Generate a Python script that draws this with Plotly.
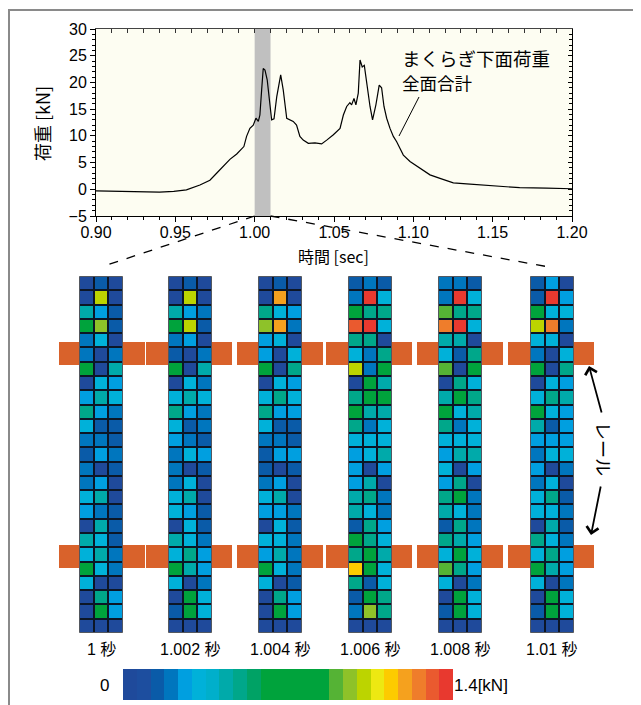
import plotly.graph_objects as go

# page body has an 8px margin, so the figure is sized to fit the 641x705 window
OFF = 8
W, H = 641 - OFF, 705 - OFF
FONT = "Liberation Sans, Arial, Noto Sans CJK JP"
JP = "Noto Sans CJK JP, Liberation Sans"

# ---------------- data: total sleeper load vs time ----------------
time_s = [0.900, 0.913, 0.924, 0.934, 0.940, 0.949, 0.957, 0.9655, 0.9718, 0.976,
          0.980, 0.9844, 0.9887, 0.9918, 0.9932, 0.9949, 0.9970, 0.9991, 1.0008, 1.0023,
          1.0033, 1.0044, 1.0054, 1.0065, 1.0079, 1.0092, 1.0107, 1.0122, 1.0139, 1.0164,
          1.0180, 1.0202, 1.0222, 1.0243, 1.0264, 1.0285, 1.0306, 1.0338, 1.0380, 1.0422,
          1.0454, 1.0496, 1.0538, 1.0559, 1.0580, 1.0600, 1.0611, 1.0626, 1.0638, 1.0653,
          1.0664, 1.0678, 1.0691, 1.0706, 1.0727, 1.0743, 1.0764, 1.0785, 1.0800, 1.0815,
          1.0832, 1.0853, 1.0874, 1.0895, 1.0937, 1.0979, 1.1042, 1.1105, 1.1168, 1.1252,
          1.1336, 1.142, 1.150, 1.159, 1.167, 1.184, 1.200]
load_kn = [-0.3, -0.4, -0.5, -0.6, -0.55, -0.4, -0.1, 0.8, 1.7, 3.0,
           4.2, 5.6, 6.6, 7.7, 8.0, 9.9, 11.4, 12.0, 13.3, 12.7,
           13.9, 18.6, 22.6, 22.3, 20.5, 17.0, 13.0, 13.2, 17.3, 21.4,
           18.6, 13.3, 13.0, 12.7, 12.0, 9.9, 9.2, 8.6, 8.7, 8.5,
           9.2, 10.2, 11.4, 13.9, 15.5, 16.2, 15.8, 17.0, 15.8, 18.0,
           24.2, 22.9, 23.2, 19.8, 15.5, 13.0, 15.8, 19.5, 19.0, 15.5,
           13.3, 11.4, 9.9, 8.9, 6.4, 5.2, 3.9, 2.7, 2.05, 1.2,
           1.0, 0.8, 0.6, 0.4, 0.3, 0.2, 0.1]
band_range = [1.000, 1.010]
x_ticks = [0.90, 0.95, 1.00, 1.05, 1.10, 1.15, 1.20]
y_ticks = [-5, 0, 5, 10, 15, 20, 25, 30]

# ---------------- data: pressure distribution snapshots ----------------
snapshot_labels = ["1 秒", "1.002 秒", "1.004 秒", "1.006 秒", "1.008 秒", "1.01 秒"]
# colour-level codes (rows top -> bottom, 3 cells each)
level_of_code = {"D": 0, "M": 2, "B": 3, "S": 4, "C": 5, "T": 7, "E": 8, "G": 12,
                 "L": 15, "Y": 16, "K": 17, "U": 19, "O": 20, "P": 21, "Q": 22, "R": 23}
snap_1000 = ["DMD", "DKD", "TSM", "GYM", "BCD", "BDB", "GDT", "DCS", "STC", "ESB",
             "CMM", "BBM", "MSB", "BDM", "BSD", "CTD", "SBM", "DTM", "TCM", "CTB",
             "GCB", "CDD", "DES", "DGS", "DDD"]
snap_1002 = ["DMD", "DKD", "TSB", "GKM", "BSD", "MDB", "GDT", "DCB", "CTC", "ESB",
             "CMB", "SBM", "BCS", "BDM", "BCD", "CTD", "CSM", "DCM", "TCB", "CES",
             "GTS", "CDB", "DGC", "MGC", "DDD"]
snap_1004 = ["DMD", "DOD", "ECS", "YOB", "SCD", "SDC", "GDE", "DCS", "CEC", "ESS",
             "CMM", "BBM", "MSS", "MDM", "BSD", "CTD", "SSB", "DCM", "CCB", "STB",
             "GCB", "CDM", "DES", "DGS", "DDD"]
snap_1006 = ["MBM", "BRC", "GEE", "QRC", "EED", "CBE", "KBG", "DGT", "EGG", "GTT",
             "EBC", "CCC", "SCT", "SDS", "STD", "TEB", "TCB", "MES", "GEC", "EGT",
             "UGC", "EMC", "MGE", "BYE", "DDD"]
snap_1008 = ["BBM", "BRC", "LEE", "PRC", "TTD", "CME", "LDG", "DEC", "TGE", "GCT",
             "EBC", "CCC", "STT", "CDS", "SED", "EGB", "TCB", "MEB", "ETS", "CGC",
             "LES", "CDB", "DGC", "MGC", "DDD"]
snap_1010 = ["MSD", "MRS", "GCC", "KPB", "CCD", "BDC", "GDE", "DCS", "CET", "GCS",
             "TMS", "SSS", "BCC", "SDB", "BCD", "CEM", "CCB", "DTM", "ECB", "CES",
             "GTS", "CDB", "DGC", "MGC", "DDD"]
snapshots = [snap_1000, snap_1002, snap_1004, snap_1006, snap_1008, snap_1010]

# discrete 24-step colour scale, 0 .. 1.4 kN
scale_min, scale_max = 0.0, 1.4
scale_colors = ["#1f4a9b", "#1d4e9f", "#0a5ba8", "#0076be", "#009fe0", "#00b1d9",
                "#00afcb", "#00aaaa", "#00a78a", "#00a265", "#00a33c", "#00a33c",
                "#00a33c", "#00a33c", "#00a33c", "#55b335", "#8ec229", "#bcd400",
                "#ede812", "#fdcb00", "#f5a11e", "#ef7d2b", "#ea5a2f", "#e8392f"]

# ---------------- layout helpers (window pixel -> paper) ----------------
def px(x):
    return (x - OFF) / W

def py(y):
    return 1 - (y - OFF) / H

TOP_X = (96, 572)
TOP_Y = (29, 216)
heat_x = [(79, 123), (168, 212), (258, 302), (348, 392), (438, 482), (530, 574)]
heat_y = (276, 633)
rail_rows = [(342, 365), (545, 568)]
rail_segs = [(59, 145), (146, 232), (237, 323), (326, 412), (417, 503), (508, 594)]
RAIL = "#d9622b"

n_lev = len(scale_colors)
colorscale = []
for i, c in enumerate(scale_colors):
    colorscale.append([i / n_lev, c])
    colorscale.append([(i + 1) / n_lev, c])

fig = go.Figure()

# top line chart
fig.add_trace(go.Scatter(x=time_s, y=load_kn, mode="lines",
                         line=dict(color="black", width=1.2), hoverinfo="skip",
                         showlegend=False, xaxis="x", yaxis="y"))
fig.add_trace(go.Scatter(x=time_s, y=load_kn, mode="lines",
                         line=dict(color="rgba(0,0,0,0)", width=0), hoverinfo="skip",
                         showlegend=False, xaxis="x2", yaxis="y2"))

# heatmaps
step = (scale_max - scale_min) / n_lev
for k, snap in enumerate(snapshots):
    z = [[scale_min + (level_of_code[ch] + 0.5) * step for ch in row] for row in snap]
    ax = k + 3
    fig.add_trace(go.Heatmap(z=z, coloraxis="coloraxis", xgap=2, ygap=2,
                             xaxis=f"x{ax}", yaxis=f"y{ax}", hoverinfo="skip"))

layout = dict(
    width=W, height=H, margin=dict(l=0, r=0, t=0, b=0, pad=0, autoexpand=False),
    paper_bgcolor="white", plot_bgcolor="rgba(0,0,0,0)",
    font=dict(family=FONT, color="black", size=16),
    showlegend=False,
    xaxis=dict(domain=[px(TOP_X[0]), px(TOP_X[1])], anchor="y", range=[0.9, 1.2],
               tickvals=x_ticks, ticktext=[f"{v:.2f}" for v in x_ticks],
               ticks="outside", ticklen=5, tickcolor="black", ticklabelstandoff=-3,
               minor=dict(dtick=0.01, tick0=0.9, ticks="outside", ticklen=3, tickcolor="black"),
               showline=True, linecolor="black", linewidth=1, showgrid=False, zeroline=False,
               tickfont=dict(size=16), automargin=False),
    yaxis=dict(domain=[py(TOP_Y[1]), py(TOP_Y[0])], anchor="x", range=[-5, 30],
               tickvals=y_ticks, ticks="outside", ticklen=5, tickcolor="black",
               minor=dict(dtick=1, tick0=0, ticks="outside", ticklen=3, tickcolor="black"),
               showline=True, linecolor="black", linewidth=1, showgrid=False, zeroline=False,
               tickfont=dict(size=16), automargin=False),
    xaxis2=dict(overlaying="x", side="top", anchor="y2", range=[0.9, 1.2],
                tickvals=x_ticks, ticks="inside", ticklen=4, tickcolor="#333",
                minor=dict(dtick=0.01, tick0=0.9, ticks="inside", ticklen=4, tickcolor="#333"),
                showticklabels=False, showline=True, linecolor="#444", linewidth=1,
                showgrid=False, zeroline=False, automargin=False),
    yaxis2=dict(overlaying="y", side="right", anchor="x2", range=[-5, 30],
                tickvals=y_ticks, ticks="inside", ticklen=4, tickcolor="black",
                minor=dict(dtick=1, tick0=0, ticks="inside", ticklen=3, tickcolor="black"),
                showticklabels=False, showline=True, linecolor="black", linewidth=1,
                showgrid=False, zeroline=False, automargin=False),
    coloraxis=dict(colorscale=colorscale, cmin=scale_min, cmax=scale_max,
                   colorbar=dict(orientation="h", x=px(123), xanchor="left",
                                 y=py(700), yanchor="bottom",
                                 thickness=31, thicknessmode="pixels",
                                 len=330, lenmode="pixels", xpad=0, ypad=0,
                                 outlinewidth=0, showticklabels=False, ticks="")),
)
for k, (x0, x1) in enumerate(heat_x):
    ax = k + 3
    layout[f"xaxis{ax}"] = dict(domain=[px(x0), px(x1)], anchor=f"y{ax}", range=[-0.5, 2.5],
                                visible=False, fixedrange=True)
    layout[f"yaxis{ax}"] = dict(domain=[py(heat_y[1]), py(heat_y[0])], anchor=f"x{ax}",
                                range=[24.5, -0.5], visible=False, fixedrange=True)
fig.update_layout(**layout)

shapes = []
# outer frame
shapes.append(dict(type="rect", xref="paper", yref="paper", x0=px(9), x1=px(680),
                   y0=py(740), y1=py(10), line=dict(color="#8a8a8a", width=2),
                   fillcolor="rgba(0,0,0,0)", layer="below"))
# ivory plot background and highlight band
shapes.append(dict(type="rect", xref="x", yref="y", x0=0.9, x1=1.2, y0=-5, y1=30,
                   fillcolor="#fdfdf2", line=dict(width=0), layer="below"))
shapes.append(dict(type="rect", xref="x", yref="y", x0=band_range[0], x1=band_range[1],
                   y0=-5, y1=30, fillcolor="#c0c0c0", line=dict(width=0), layer="below"))

# dashed zoom lines from band edges to outer snapshots
def t_to_px(t):
    return TOP_X[0] + (t - 0.9) / 0.3 * (TOP_X[1] - TOP_X[0])

shapes.append(dict(type="line", xref="paper", yref="paper",
                   x0=px(t_to_px(band_range[0])), y0=py(TOP_Y[1]),
                   x1=px(sum(heat_x[0]) / 2), y1=py(267),
                   line=dict(color="black", width=1.3, dash="dash")))
shapes.append(dict(type="line", xref="paper", yref="paper",
                   x0=px(t_to_px(band_range[1])), y0=py(TOP_Y[1]),
                   x1=px(sum(heat_x[-1]) / 2 - 3), y1=py(267),
                   line=dict(color="black", width=1.3, dash="dash")))
# annotation pointer
shapes.append(dict(type="line", xref="paper", yref="paper", x0=px(419), y0=py(97),
                   x1=px(399), y1=py(136), line=dict(color="black", width=1)))
# rails
for (ry0, ry1) in rail_rows:
    for (sx0, sx1) in rail_segs:
        shapes.append(dict(type="rect", xref="paper", yref="paper", x0=px(sx0), x1=px(sx1),
                           y0=py(ry1), y1=py(ry0), fillcolor=RAIL, line=dict(width=0),
                           layer="below"))
# dark cell-grid backgrounds for heatmaps
for k in range(len(heat_x)):
    ax = k + 3
    shapes.append(dict(type="rect", xref=f"x{ax}", yref=f"y{ax}", x0=-0.5, x1=2.5,
                       y0=24.5, y1=-0.5, fillcolor="#0c1626",
                       line=dict(color="#9a9a9a", width=1), layer="below"))
fig.update_layout(shapes=shapes)


def label(text, x, y, size, family=FONT, xanchor="center", angle=0):
    return dict(text=text, x=px(x), y=py(y), xref="paper", yref="paper",
                xanchor=xanchor, yanchor="middle", textangle=angle, showarrow=False,
                font=dict(family=family, size=size, color="black"))


ann = []
ann.append(label("荷重 [kN]", 42, 124, 18, JP, angle=-90))
ann.append(label("時間 [sec]", 334, 256, 16, JP))
ann.append(label("まくらぎ下面荷重", 400, 58, 18.5, JP, xanchor="left"))
ann.append(label("全面合計", 400, 82, 17.5, JP, xanchor="left"))
for k, lab in enumerate(snapshot_labels):
    ann.append(label(lab, sum(heat_x[k]) / 2, 649, 16))
ann.append(label(f"{scale_min:g}", 111, 685, 17, xanchor="right"))
ann.append(label(f"{scale_max:g}[kN]", 452, 685, 17, xanchor="left"))
# rail label with arrows
ann.append(label("レール", 604, 449, 18, JP, angle=90))
ann.append(dict(text="", x=px(589), y=py(366), ax=13, ay=48,
                xref="paper", yref="paper", axref="pixel", ayref="pixel",
                showarrow=True, arrowhead=4, arrowsize=1.3, arrowwidth=1.8, arrowcolor="black"))
ann.append(dict(text="", x=px(591), y=py(535), ax=10, ay=-50,
                xref="paper", yref="paper", axref="pixel", ayref="pixel",
                showarrow=True, arrowhead=4, arrowsize=1.3, arrowwidth=1.8, arrowcolor="black"))
fig.update_layout(annotations=ann)

fig.write_html("out.html")
